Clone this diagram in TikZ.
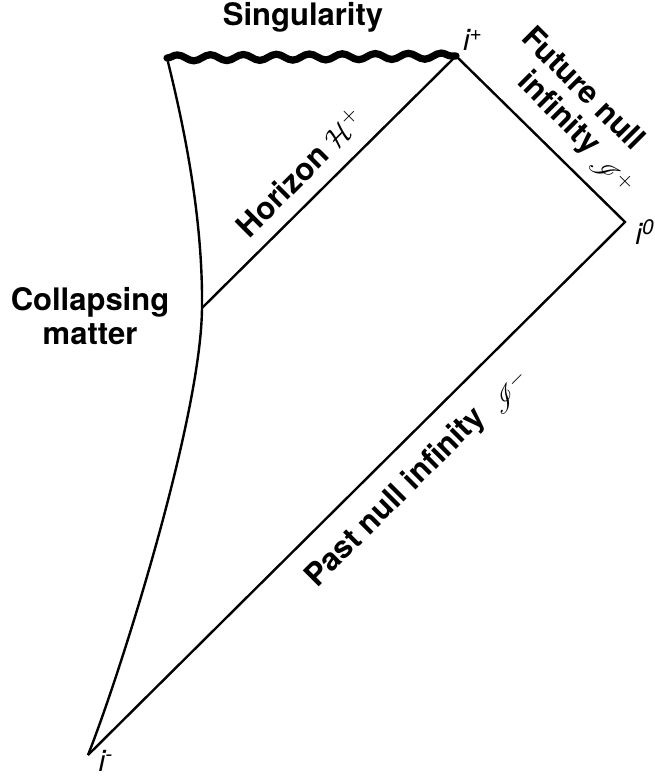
\documentclass[tikz,border=0pt]{standalone}
\usepackage{fontspec}
\setmainfont{TeX Gyre Heros}
\usepackage{mathrsfs}
\usetikzlibrary{decorations.pathmorphing}

\tikzset{
  lbl/.style={font=\fontsize{15.5}{19}\selectfont\bfseries, align=center},
  pnt/.style={font=\fontsize{15}{18}\selectfont\itshape, inner sep=0pt},
  scri/.style={font=\fontsize{15}{18}\selectfont, inner sep=0pt},
  sing/.style={line width=3.6pt, line cap=round, decorate,
    decoration={snake, segment length=16.5pt, amplitude=1.5pt}},
}

\begin{document}
\begin{tikzpicture}[x=0.5pt, y=-0.5pt, line width=1.2pt]
\useasboundingbox (0,0) rectangle (654,776);
% corners of the diagram
\coordinate (iplus) at (456,56);
\coordinate (izero) at (625,222);
\coordinate (iminus) at (88,755);
\coordinate (singl) at (167,58);
\coordinate (hor) at (202,308);

% boundaries
\draw (iminus) -- (izero) -- (iplus) -- (hor);
\draw (singl) .. controls (185,130) and (203,220) .. (hor)
      .. controls (201,420) and (118,680) .. (iminus);
\draw[sing] (singl) -- (iplus);

% labels
\node[lbl] (singtxt) at (303,17) {Singularity};
\node[lbl] (matter) at (90,316) {Collapsing\\[-2pt]matter};
\node[lbl, rotate=-45] (fut) at (570,102) {Future null\\[-2pt]infinity};
\node[lbl, rotate=45] (horz) at (300,172) {Horizon $\mathcal{H}^+$};
\node[lbl, rotate=45] (past) at (396,498) {Past null infinity};
\node[scri, rotate=-45] (scrip) at (612,175) {$\mathscr{I}^+$};
\node[scri, rotate=45] (scrim) at (510,392) {$\mathscr{I}^-$};

\node[pnt] (ip) at (473,40) {i\textsuperscript{+}};
\node[pnt] (i0) at (645,232) {i\textsuperscript{0}};
\node[pnt] (im) at (106,761) {i\textsuperscript{-}};
\end{tikzpicture}
\end{document}
